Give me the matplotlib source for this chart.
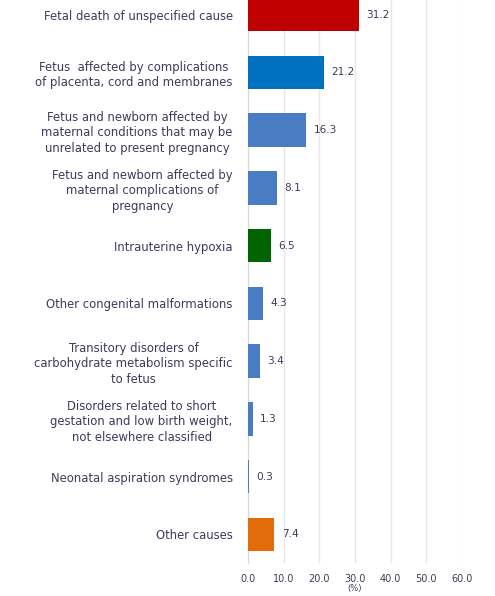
import matplotlib
matplotlib.use("Agg")
import matplotlib.pyplot as plt

# Causes of death, from bottom to top of the chart
causes = [
    "Other causes",
    "Neonatal aspiration syndromes",
    "Disorders related to short\ngestation and low birth weight,\nnot elsewhere classified",
    "Transitory disorders of\ncarbohydrate metabolism specific\nto fetus",
    "Other congenital malformations",
    "Intrauterine hypoxia",
    "Fetus and newborn affected by\nmaternal complications of\npregnancy",
    "Fetus and newborn affected by\nmaternal conditions that may be\nunrelated to present pregnancy",
    "Fetus  affected by complications\nof placenta, cord and membranes",
    "Fetal death of unspecified cause",
]
shares = [7.4, 0.3, 1.3, 3.4, 4.3, 6.5, 8.1, 16.3, 21.2, 31.2]
bar_colors = ["#E36C0A", "#4F81BD", "#4A7CC4", "#4A7CC4", "#4A7CC4",
              "#006400", "#4A7CC4", "#4A7CC4", "#0070C0", "#C00000"]
xticks = [0, 10, 20, 30, 40, 50, 60]

text_color = "#3C3C5C"

fig = plt.figure(figsize=(4.95, 5.96), dpi=100)
ax = fig.add_axes([0.501, 0.055, 0.432, 0.969])

ypos = range(len(causes))
ax.barh(ypos, shares, height=0.58, color=bar_colors, zorder=3)

for y, v in zip(ypos, shares):
    ax.text(v + 2.1, y, f"{v:.1f}", va="center", ha="left",
            fontsize=7.6, color=text_color)

ax.set_xlim(0, 60)
ax.set_ylim(-0.5, len(causes) - 0.5)
ax.set_xticks(xticks)
ax.set_xticklabels([f"{t:.1f}" for t in xticks], fontsize=7, color=text_color)
ax.set_yticks(list(ypos))
ax.set_yticklabels(causes, fontsize=8.4, color=text_color, linespacing=1.25)
for lbl in ax.get_yticklabels():
    lbl.set_multialignment("center")

ax.tick_params(axis="y", length=0, pad=11)
ax.tick_params(axis="x", length=0, pad=8)
ax.grid(axis="x", color="#E6E6E6", linewidth=0.9, zorder=0)

for side in ["top", "right", "bottom"]:
    ax.spines[side].set_visible(False)
ax.spines["left"].set_color("#D9D9D9")
ax.spines["left"].set_linewidth(0.9)

ax.set_xlabel("(%)", fontsize=6, color=text_color, labelpad=0)

fig.savefig("out.png", dpi=100)
